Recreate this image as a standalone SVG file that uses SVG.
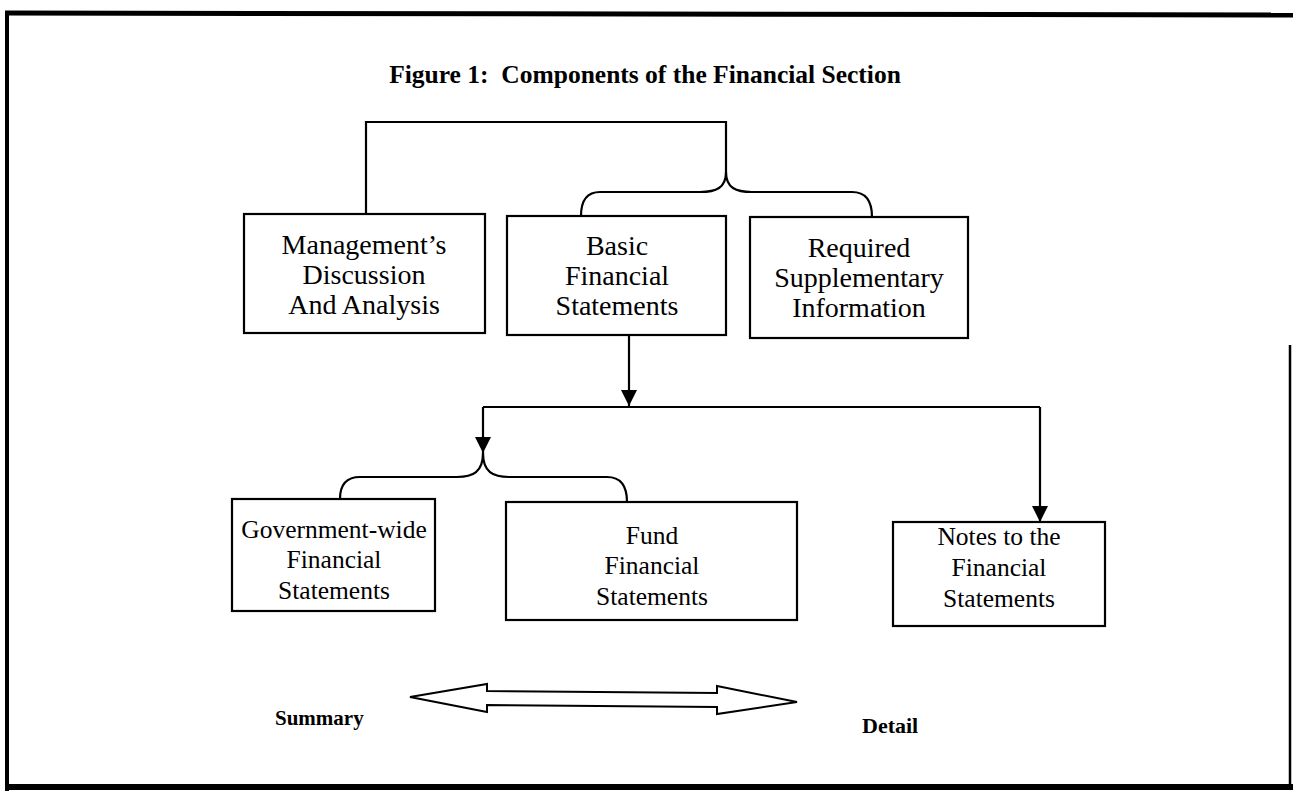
<svg xmlns="http://www.w3.org/2000/svg" width="1293" height="798" viewBox="0 0 1293 798">
<defs>
<style>
.box{fill:#fff;stroke:#000;stroke-width:2.2}
.t{font-family:"Liberation Serif","Times New Roman",serif;font-size:28px;fill:#000;text-anchor:middle}
.s{font-size:25.5px}
.b{font-family:"Liberation Serif","Times New Roman",serif;font-weight:bold;fill:#000}
.c{fill:none;stroke:#000;stroke-width:2.2}
.frame{fill:none;stroke:#000}
</style>
<marker id="ah" viewBox="0 0 16 18" refX="16" refY="9" markerWidth="16" markerHeight="18" markerUnits="userSpaceOnUse" orient="auto">
<path d="M0,1 L16,9 L0,17 Z" fill="#000"/>
</marker>
</defs>
<rect width="1293" height="798" fill="#fff"/>
<g id="frame">
<path class="frame" stroke-width="5" d="M5,13 L1293,15"/>
<path class="frame" stroke-width="4" d="M7,11 L7,791"/>
<path class="frame" stroke-width="6" d="M5,787 L1293,787"/>
<path class="frame" stroke-width="2.5" d="M1290,345 L1290,790"/>
</g>
<text id="title" class="b" x="645" y="83" font-size="25.5" text-anchor="middle" xml:space="preserve">Figure 1:  Components of the Financial Section</text>
<g id="connectors">
<path class="c" d="M366,214 V122 H726 V172"/>
<path class="c" d="M726,172 C726,188 716,192 700,192 H600 Q581,192 581,216"/>
<path class="c" d="M726,172 C726,188 736,192 752,192 H852 Q872,192 872,217"/>
<path class="c" d="M629,335 V406" marker-end="url(#ah)"/>
<path class="c" d="M483,407 H1040"/>
<path class="c" d="M483,407 V453" marker-end="url(#ah)"/>
<path class="c" d="M1040,407 V522" marker-end="url(#ah)"/>
<path class="c" d="M483,453 C483,472 473,477 457,477 H360 Q340,477 340,499"/>
<path class="c" d="M483,453 C483,472 493,477 509,477 H607 Q627,477 627,502"/>
</g>
<g id="n-mda">
<rect class="box" x="244" y="214" width="241" height="119"/>
<text class="t" x="364" y="254">Management’s</text>
<text class="t" x="364" y="284">Discussion</text>
<text class="t" x="364" y="314">And Analysis</text>
</g>
<g id="n-basic">
<rect class="box" x="507" y="216" width="219" height="119"/>
<text class="t" x="617" y="255">Basic</text>
<text class="t" x="617" y="285">Financial</text>
<text class="t" x="617" y="315">Statements</text>
</g>
<g id="n-rsi">
<rect class="box" x="750" y="217" width="218" height="121"/>
<text class="t" x="859" y="257">Required</text>
<text class="t" x="859" y="287">Supplementary</text>
<text class="t" x="859" y="317">Information</text>
</g>
<g id="n-gov">
<rect class="box" x="232" y="499" width="203" height="112"/>
<text class="t s" x="334" y="538">Government-wide</text>
<text class="t s" x="334" y="568">Financial</text>
<text class="t s" x="334" y="599">Statements</text>
</g>
<g id="n-fund">
<rect class="box" x="506" y="502" width="291" height="118"/>
<text class="t s" x="652" y="544">Fund</text>
<text class="t s" x="652" y="574">Financial</text>
<text class="t s" x="652" y="605">Statements</text>
</g>
<g id="n-notes">
<rect class="box" x="893" y="522" width="212" height="104"/>
<text class="t s" x="999" y="545">Notes to the</text>
<text class="t s" x="999" y="576">Financial</text>
<text class="t s" x="999" y="607">Statements</text>
</g>
<g id="scale">
<path fill="#fff" stroke="#000" stroke-width="2" d="M410,697 L487,684 L487,691 L717,693 L717,686 L797,702 L717,714 L717,707 L487,705 L487,712 Z"/>
<text class="b" x="275" y="725" font-size="21">Summary</text>
<text class="b" x="862" y="733" font-size="22">Detail</text>
</g>
</svg>
